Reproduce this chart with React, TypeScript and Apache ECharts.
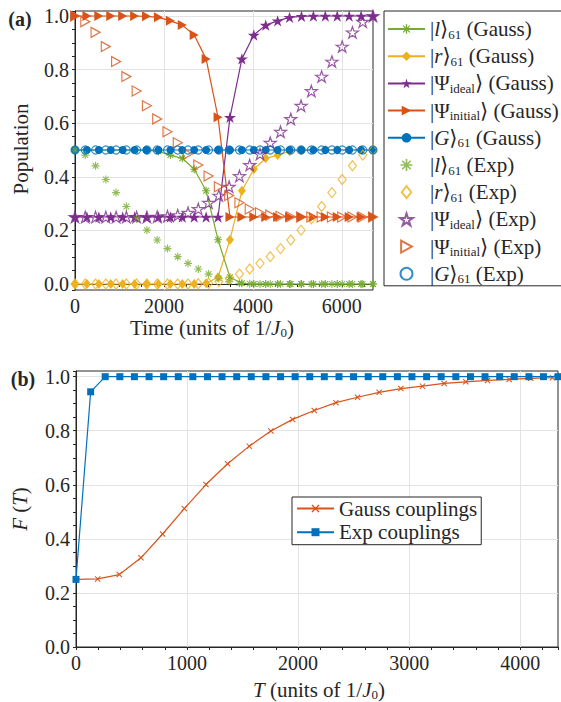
import React, { useEffect, useRef } from 'react';
import * as echarts from 'echarts';

const SERIF = "'Liberation Serif', 'Times New Roman', 'DejaVu Serif', serif";
const TXT = '#262626';
const GRIDC = '#e3e3e3';
const GREEN = '#77ac30';
const YELLOW = '#edb120';
const PURPLE = '#7e2f8e';
const ORANGE = '#d95319';
const BLUE = '#0072bd';

// ---- panel (a) data ----
const timeGauss = [0, 268, 536, 804, 1072, 1340, 1608, 1876, 2144, 2412, 2680, 2948, 3216, 3484, 3752, 4020, 4288, 4556, 4824, 5092, 5360, 5628, 5896, 6164, 6432, 6700];
const lGauss = [0.5, 0.5, 0.5, 0.5, 0.5, 0.5, 0.499, 0.495, 0.481, 0.469, 0.428, 0.348, 0.165, 0.025, 0.003, 0, 0, 0, 0, 0, 0, 0, 0, 0, 0, 0];
const rGauss = [0, 0, 0, 0, 0, 0, 0, 0, 0, 0, 0, 0.003, 0.025, 0.165, 0.348, 0.428, 0.469, 0.481, 0.495, 0.499, 0.5, 0.5, 0.5, 0.5, 0.5, 0.5];
const idealGauss = [0.25, 0.25, 0.25, 0.25, 0.25, 0.25, 0.25, 0.25, 0.25, 0.25, 0.25, 0.25, 0.25, 0.622, 0.84, 0.929, 0.966, 0.982, 0.995, 0.999, 1, 1, 1, 1, 1, 1];
const initGauss = [1, 1, 1, 1, 1, 1, 0.999, 0.995, 0.982, 0.966, 0.929, 0.84, 0.622, 0.25, 0.25, 0.25, 0.25, 0.25, 0.25, 0.25, 0.25, 0.25, 0.25, 0.25, 0.25, 0.25];
const gGauss = [0.5, 0.5, 0.5, 0.5, 0.5, 0.5, 0.5, 0.5, 0.5, 0.5, 0.5, 0.5, 0.5, 0.5, 0.5, 0.5, 0.5, 0.5, 0.5, 0.5, 0.5, 0.5, 0.5, 0.5, 0.5, 0.5];

const timeExp = [0, 231, 462, 693, 924, 1155, 1386, 1617, 1848, 2079, 2310, 2541, 2772, 3003, 3234, 3466, 3697, 3928, 4159, 4390, 4621, 4852, 5083, 5314, 5545, 5776, 6007, 6238, 6469, 6700];
const lExp = [0.5, 0.481, 0.441, 0.39, 0.341, 0.289, 0.243, 0.201, 0.164, 0.132, 0.102, 0.077, 0.056, 0.037, 0.021, 0.009, 0.003, 0.001, 0, 0, 0, 0, 0, 0, 0, 0, 0, 0, 0, 0];
const rExp = [0, 0, 0, 0, 0, 0, 0, 0, 0, 0, 0, 0, 0.001, 0.003, 0.009, 0.021, 0.037, 0.056, 0.077, 0.102, 0.132, 0.164, 0.201, 0.243, 0.289, 0.341, 0.39, 0.441, 0.481, 0.5];
const idealExp = [0.25, 0.25, 0.25, 0.25, 0.25, 0.25, 0.25, 0.25, 0.251, 0.253, 0.257, 0.266, 0.28, 0.303, 0.33, 0.363, 0.403, 0.444, 0.485, 0.527, 0.568, 0.616, 0.665, 0.72, 0.774, 0.83, 0.886, 0.939, 0.979, 1.0];
const initExp = [1.0, 0.979, 0.939, 0.886, 0.83, 0.774, 0.72, 0.665, 0.616, 0.568, 0.527, 0.485, 0.444, 0.403, 0.363, 0.33, 0.303, 0.28, 0.266, 0.257, 0.253, 0.251, 0.25, 0.25, 0.25, 0.25, 0.25, 0.25, 0.25, 0.25];
const gExp = [0.5, 0.5, 0.5, 0.5, 0.5, 0.5, 0.5, 0.5, 0.5, 0.5, 0.5, 0.5, 0.5, 0.5, 0.5, 0.5, 0.5, 0.5, 0.5, 0.5, 0.5, 0.5, 0.5, 0.5, 0.5, 0.5, 0.5, 0.5, 0.5, 0.5];

// ---- panel (b) data ----
const tGaussB = [0, 195, 390, 585, 780, 975, 1170, 1365, 1560, 1755, 1950, 2145, 2340, 2535, 2730, 2925, 3120, 3315, 3510, 3705, 3900, 4095, 4290];
const fGauss = [0.25, 0.252, 0.268, 0.33, 0.418, 0.512, 0.601, 0.678, 0.743, 0.799, 0.842, 0.875, 0.904, 0.924, 0.942, 0.956, 0.965, 0.975, 0.981, 0.986, 0.99, 0.994, 0.996];
const tExpB = [0, 132, 263, 395, 526, 658, 789, 921, 1052, 1184, 1315, 1447, 1578, 1710, 1842, 1973, 2105, 2236, 2368, 2499, 2631, 2762, 2894, 3025, 3157, 3288, 3420, 3552, 3683, 3815, 3946, 4078, 4209, 4340];
const fExp = [0.25, 0.944, 1, 1, 1, 1, 1, 1, 1, 1, 1, 1, 1, 1, 1, 1, 1, 1, 1, 1, 1, 1, 1, 1, 1, 1, 1, 1, 1, 1, 1, 1, 1, 1];

const legendNamesA = ['lG', 'rG', 'idealG', 'initG', 'GG', 'lE', 'rE', 'idealE', 'initE', 'GE'];
const legendTextA: Record<string, string> = {
  lG: '|{it|l}⟩{sub|61} (Gauss)',
  rG: '|{it|r}⟩{sub|61} (Gauss)',
  idealG: '|Ψ{sub|ideal}⟩ (Gauss)',
  initG: '|Ψ{sub|initial}⟩ (Gauss)',
  GG: '|{it|G}⟩{sub|61} (Gauss)',
  lE: '|{it|l}⟩{sub|61} (Exp)',
  rE: '|{it|r}⟩{sub|61} (Exp)',
  idealE: '|Ψ{sub|ideal}⟩ (Exp)',
  initE: '|Ψ{sub|initial}⟩ (Exp)',
  GE: '|{it|G}⟩{sub|61} (Exp)',
};
const legendNamesB = ['Gauss couplings', 'Exp couplings'];

const STAR = 'path://M50 0 L61.23 34.55 L97.55 34.55 L68.16 55.9 L79.39 90.45 L50 69.1 L20.61 90.45 L31.84 55.9 L2.45 34.55 L38.77 34.55 Z';
const ASTER = 'path://M0 43 L100 43 L100 57 L0 57 Z M43 0 L57 0 L57 100 L43 100 Z M19.55 9.65 L90.35 80.45 L80.45 90.35 L9.65 19.55 Z M90.35 19.55 L19.55 90.35 L9.65 80.45 L80.45 9.65 Z';
const CROSS = 'path://M0 12 L12 0 L100 88 L88 100 Z M88 0 L100 12 L12 100 L0 88 Z';
const DIAMOND = 'path://M40 0 L80 50 L40 100 L0 50 Z';
const TRI_RIGHT = 'path://M0 0 L90 50 L0 100 Z';
const CIRCLE = 'circle';

const zip = (xs: number[], ys: number[]) => xs.map((x, i) => [x, ys[i]]);
const isMult = (v: number, step: number) => Math.abs(v / step - Math.round(v / step)) < 1e-6;

const labelStyle = { fontFamily: SERIF, fontSize: 20, color: TXT };
const tickStyle = { show: true, length: 3, inside: false, lineStyle: { color: TXT, width: 1 } };
const lineAx = { show: true, lineStyle: { color: TXT, width: 1 } };
const hiddenAx = { axisLine: { show: false }, axisTick: { show: false }, axisLabel: { show: false } };
const splitSt = { show: true, showMinLine: false, showMaxLine: false, lineStyle: { color: GRIDC, width: 1 } };

const richLegend = {
  it: { fontFamily: SERIF, fontSize: 21, fontStyle: 'italic', lineHeight: 24, color: TXT },
  sub: { fontFamily: SERIF, fontSize: 13, lineHeight: 14, padding: [10, 0, 0, 0], color: TXT },
};
const richTitle = {
  it: { fontFamily: SERIF, fontSize: 21, fontStyle: 'italic', lineHeight: 20, fill: TXT },
  sub: { fontFamily: SERIF, fontSize: 13, lineHeight: 12, padding: [8, 0, 0, 0], fill: TXT },
};

const Y_MIN_A = -0.0224;
const Y_MAX_A = 1.0187;

export default function App() {
  const ref = useRef<HTMLDivElement>(null);
  useEffect(() => {
    if (!ref.current) return;
    const chart = echarts.init(ref.current, null, { renderer: 'svg' });
    const lineSeries = (name: string, xs: number[], ys: number[], color: string, symbol: string, size: any) => ({
      name, type: 'line', xAxisIndex: 0, yAxisIndex: 0, data: zip(xs, ys), symbol, symbolSize: size,
      lineStyle: { color, width: 1.2 }, itemStyle: { color }, clip: false, z: 3,
    });
    const hollow = (name: string, xs: number[], ys: number[], color: string, symbol: string, size: any) => ({
      name, type: 'scatter', xAxisIndex: 0, yAxisIndex: 0, data: zip(xs, ys), symbol, symbolSize: size,
      itemStyle: { color: 'transparent', borderColor: color, borderWidth: 1.2 }, clip: false, z: 4,
    });
    const titleText = (text: string, x: number, y: number, rot = 0) => ({
      type: 'text', x, y, rotation: rot, z: 10,
      style: { text, align: 'center', verticalAlign: 'middle', fontFamily: SERIF, fontSize: 21, lineHeight: 20, fill: TXT, rich: richTitle },
    });
    const option: any = {
      animation: false,
      backgroundColor: '#ffffff',
      grid: [
        { left: 75, top: 11, width: 298, height: 279, show: true, borderColor: TXT, borderWidth: 1, backgroundColor: 'transparent' },
        { left: 76, top: 371, width: 483, height: 276, show: true, borderColor: TXT, borderWidth: 1, backgroundColor: 'transparent' },
      ],
      xAxis: [
        {
          type: 'value', gridIndex: 0, min: 0, max: 6700, interval: 500, position: 'bottom',
          axisLine: lineAx, axisTick: tickStyle, splitLine: { show: false },
          axisLabel: { ...labelStyle, margin: 6, formatter: (v: number) => (isMult(v, 2000) ? String(v) : '') },
        },
        { type: 'value', gridIndex: 0, min: 0, max: 6700, interval: 2000, ...hiddenAx, splitLine: splitSt },
        {
          type: 'value', gridIndex: 1, min: 0, max: 4340, interval: 200, position: 'bottom',
          axisLine: lineAx, axisTick: tickStyle, splitLine: { show: false },
          axisLabel: { ...labelStyle, margin: 6, formatter: (v: number) => (isMult(v, 1000) ? String(v) : '') },
        },
        { type: 'value', gridIndex: 1, min: 0, max: 4340, interval: 1000, ...hiddenAx, splitLine: splitSt },
      ],
      yAxis: [
        {
          type: 'value', gridIndex: 0, min: Y_MIN_A, max: Y_MAX_A, splitNumber: 20, position: 'left',
          axisLine: lineAx, axisTick: tickStyle, splitLine: { show: false },
          axisLabel: { ...labelStyle, margin: 6, formatter: (v: number) => (v > -1e-9 && v < 1.0001 && isMult(v, 0.2) ? v.toFixed(1) : '') },
        },
        { type: 'value', gridIndex: 0, min: Y_MIN_A, max: Y_MAX_A, splitNumber: 5, ...hiddenAx, splitLine: splitSt },
        {
          type: 'value', gridIndex: 1, min: 0, max: 1.021, interval: 0.05, position: 'left',
          axisLine: lineAx, axisTick: tickStyle, splitLine: { show: false },
          axisLabel: { ...labelStyle, margin: 6, formatter: (v: number) => (v < 1.0001 && isMult(v, 0.2) ? v.toFixed(1) : '') },
        },
        { type: 'value', gridIndex: 1, min: 0, max: 1.021, interval: 0.2, ...hiddenAx, splitLine: splitSt },
      ],
      legend: [
        {
          data: legendNamesA, orient: 'vertical', left: 384, top: 11, itemWidth: 37, itemHeight: 12, itemGap: 3.2,
          padding: [6, 6, 0, 3], borderColor: TXT, borderWidth: 1, backgroundColor: '#ffffff', selectedMode: false,
          symbolKeepAspect: true,
          formatter: (n: string) => legendTextA[n],
          textStyle: { fontFamily: SERIF, fontSize: 21, lineHeight: 24, color: TXT, rich: richLegend },
        },
        {
          data: legendNamesB, orient: 'vertical', left: 292, top: 497, itemWidth: 37, itemHeight: 10, itemGap: 2.7,
          padding: [1, 4, 2, 4], borderColor: TXT, borderWidth: 1, backgroundColor: '#ffffff', selectedMode: false,
          textStyle: { fontFamily: SERIF, fontSize: 21, lineHeight: 20, color: TXT },
        },
      ],
      series: [
        lineSeries('lG', timeGauss, lGauss, GREEN, ASTER, 8),
        lineSeries('rG', timeGauss, rGauss, YELLOW, DIAMOND, [8, 10]),
        lineSeries('idealG', timeGauss, idealGauss, PURPLE, STAR, [12, 11.4]),
        lineSeries('initG', timeGauss, initGauss, ORANGE, TRI_RIGHT, [9, 10]),
        lineSeries('GG', timeGauss, gGauss, BLUE, CIRCLE, 8),
        {
          name: 'lE', type: 'scatter', xAxisIndex: 0, yAxisIndex: 0, data: zip(timeExp, lExp), symbol: ASTER, symbolSize: 8,
          itemStyle: { color: GREEN }, clip: false, z: 4,
        },
        hollow('rE', timeExp, rExp, YELLOW, DIAMOND, [8, 10]),
        hollow('idealE', timeExp, idealExp, PURPLE, STAR, [12, 11.4]),
        hollow('initE', timeExp, initExp, ORANGE, TRI_RIGHT, [9, 10]),
        hollow('GE', timeExp, gExp, BLUE, CIRCLE, 8),
        {
          name: 'Gauss couplings', type: 'line', xAxisIndex: 2, yAxisIndex: 2, data: zip(tGaussB, fGauss),
          symbol: CROSS, symbolSize: 6, lineStyle: { color: ORANGE, width: 1.2 }, itemStyle: { color: ORANGE }, clip: false, z: 3,
        },
        {
          name: 'Exp couplings', type: 'line', xAxisIndex: 2, yAxisIndex: 2, data: zip(tExpB, fExp),
          symbol: 'rect', symbolSize: 7, lineStyle: { color: BLUE, width: 1.2 }, itemStyle: { color: BLUE }, clip: false, z: 4,
        },
      ],
      graphic: [
        titleText('Time (units of 1/{it|J}{sub|0})', 212, 328),
        titleText('{it|T} (units of 1/{it|J}{sub|0})', 319, 690),
        titleText('Population', 21, 149, Math.PI / 2),
        titleText('{it|F} ({it|T})', 20, 509, Math.PI / 2),
        {
          type: 'text', x: 20, y: 19, z: 10,
          style: { text: '(a)', align: 'center', verticalAlign: 'middle', fontFamily: SERIF, fontSize: 20, fontWeight: 'bold', fill: TXT },
        },
        {
          type: 'text', x: 23, y: 379, z: 10,
          style: { text: '(b)', align: 'center', verticalAlign: 'middle', fontFamily: SERIF, fontSize: 20, fontWeight: 'bold', fill: TXT },
        },
      ],
    };
    chart.setOption(option);
    return () => chart.dispose();
  }, []);
  return <div ref={ref} style={{ position: 'fixed', left: 0, top: 0, width: 561, height: 702 }} />;
}
